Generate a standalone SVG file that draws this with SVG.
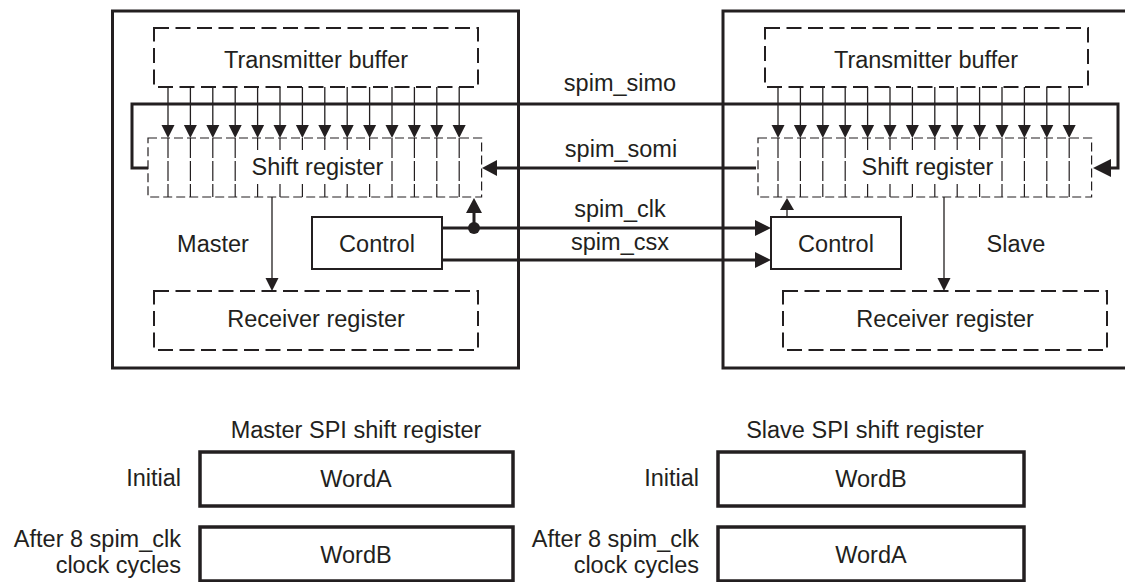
<svg xmlns="http://www.w3.org/2000/svg" xmlns:xlink="http://www.w3.org/1999/xlink" width="1125" height="582" viewBox="0 0 1125 582">
<style>
text{font-family:"Liberation Sans",Arial,sans-serif;font-size:23.5px;fill:#231f20}
.c{text-anchor:middle}
.r{text-anchor:end}
.outer{fill:none;stroke:#231f20;stroke-width:3}
.dbox{fill:none;stroke:#231f20;stroke-width:2;stroke-dasharray:15,6.5}
.sreg{fill:none;stroke:#231f20;stroke-width:1.2;stroke-dasharray:9,4}
.div{stroke:#231f20;stroke-width:1.2;stroke-dasharray:20,3}
.thin{stroke:#231f20;stroke-width:1.3;fill:none}
.thick{stroke:#231f20;stroke-width:3;fill:none}
.box{fill:#fff;stroke:#231f20;stroke-width:2}
.wbox{fill:none;stroke:#231f20;stroke-width:3.5}
.ah{fill:#231f20}
</style>
<defs>
<g id="colArrow">
<line class="thin" x1="0" y1="87" x2="0" y2="126"/>
<polygon class="ah" points="-6.5,125 6.5,125 0,138"/>
<line class="div" x1="0" y1="138" x2="0" y2="197"/>
</g>
</defs>
<rect width="1125" height="582" fill="#fff"/>

<g id="master">
<rect class="outer" x="112.5" y="11" width="406" height="357"/>
<text class="c" x="213" y="252">Master</text>
</g>
<g id="slave">
<rect class="outer" x="723" y="11" width="430" height="357"/>
<text class="c" x="1016" y="252">Slave</text>
</g>

<g id="master-tx">
<rect class="dbox" x="154" y="28" width="324" height="59"/>
<text class="c" x="316" y="68">Transmitter buffer</text>
</g>
<g id="slave-tx">
<rect class="dbox" x="765" y="28" width="323" height="59"/>
<text class="c" x="926" y="68">Transmitter buffer</text>
</g>

<g id="master-shift">
<rect class="sreg" x="148" y="138" width="333.6" height="59"/>
<use xlink:href="#colArrow" x="168"/><use xlink:href="#colArrow" x="190.4"/><use xlink:href="#colArrow" x="212.8"/><use xlink:href="#colArrow" x="235.2"/><use xlink:href="#colArrow" x="257.6"/><use xlink:href="#colArrow" x="280"/><use xlink:href="#colArrow" x="302.4"/><use xlink:href="#colArrow" x="324.8"/><use xlink:href="#colArrow" x="347.2"/><use xlink:href="#colArrow" x="369.6"/><use xlink:href="#colArrow" x="392"/><use xlink:href="#colArrow" x="414.4"/><use xlink:href="#colArrow" x="436.8"/><use xlink:href="#colArrow" x="459.2"/>
<rect x="249" y="150" width="137" height="31" fill="#fff"/>
<text class="c" x="317.5" y="175">Shift register</text>
</g>
<g id="slave-shift">
<rect class="sreg" x="758" y="138" width="333.6" height="59"/>
<use xlink:href="#colArrow" x="778"/><use xlink:href="#colArrow" x="800.4"/><use xlink:href="#colArrow" x="822.8"/><use xlink:href="#colArrow" x="845.2"/><use xlink:href="#colArrow" x="867.6"/><use xlink:href="#colArrow" x="890"/><use xlink:href="#colArrow" x="912.4"/><use xlink:href="#colArrow" x="934.8"/><use xlink:href="#colArrow" x="957.2"/><use xlink:href="#colArrow" x="979.6"/><use xlink:href="#colArrow" x="1002"/><use xlink:href="#colArrow" x="1024.4"/><use xlink:href="#colArrow" x="1046.8"/><use xlink:href="#colArrow" x="1069.2"/>
<rect x="859" y="150" width="137" height="31" fill="#fff"/>
<text class="c" x="927.5" y="175">Shift register</text>
</g>

<g id="master-control">
<rect class="box" x="312" y="217" width="130" height="52"/>
<text class="c" x="377" y="252">Control</text>
</g>
<g id="slave-control">
<rect class="box" x="771" y="217" width="130" height="52"/>
<text class="c" x="836" y="252">Control</text>
</g>

<g id="master-rx">
<rect class="dbox" x="154" y="291" width="324" height="59"/>
<text class="c" x="316" y="327">Receiver register</text>
</g>
<g id="slave-rx">
<rect class="dbox" x="783" y="291" width="324" height="59"/>
<text class="c" x="945" y="327">Receiver register</text>
</g>

<g id="connectors">
<!-- spim_simo -->
<polyline class="thick" points="148,168 132,168 132,104 1118,104 1118,168 1110,168"/>
<polygon class="ah" points="1093,168 1111,159 1111,177"/>
<!-- spim_somi -->
<line class="thick" x1="756" y1="168" x2="495" y2="168"/>
<polygon class="ah" points="482,168 497,160 497,176"/>
<!-- spim_clk -->
<line class="thick" x1="442" y1="228" x2="757" y2="228"/>
<polygon class="ah" points="771,228 755,220 755,236"/>
<circle class="ah" cx="474" cy="228" r="6"/>
<line class="thick" x1="474" y1="228" x2="474" y2="211"/>
<polygon class="ah" points="474,198 466,213 482,213"/>
<!-- spim_csx -->
<line class="thick" x1="442" y1="260" x2="757" y2="260"/>
<polygon class="ah" points="771,260 755,252 755,268"/>
<!-- slave control to shift register -->
<line class="thin" x1="787" y1="217" x2="787" y2="208"/>
<polygon class="ah" points="787,198 780,210 794,210"/>
<!-- shift register to receiver -->
<line class="thin" x1="272" y1="197" x2="272" y2="279"/>
<polygon class="ah" points="272,291 265.5,278 278.5,278"/>
<line class="thin" x1="944" y1="197" x2="944" y2="279"/>
<polygon class="ah" points="944,291 937.5,278 950.5,278"/>
</g>

<g id="signal-labels">
<text class="c" x="620" y="91">spim_simo</text>
<text class="c" x="621" y="157">spim_somi</text>
<text class="c" x="620" y="217">spim_clk</text>
<text class="c" x="620" y="250">spim_csx</text>
</g>

<g id="master-sequence">
<text class="c" x="356" y="438">Master SPI shift register</text>
<text class="r" x="181" y="486">Initial</text>
<text class="r" x="181" y="547">After 8 spim_clk</text>
<text class="r" x="181" y="573">clock cycles</text>
<g id="master-initial"><rect class="wbox" x="200" y="452" width="313" height="54"/><text class="c" x="356" y="487">WordA</text></g>
<g id="master-after"><rect class="wbox" x="200" y="527" width="313" height="54"/><text class="c" x="356" y="563">WordB</text></g>
</g>
<g id="slave-sequence">
<text class="c" x="865" y="438">Slave SPI shift register</text>
<text class="r" x="699" y="486">Initial</text>
<text class="r" x="699" y="547">After 8 spim_clk</text>
<text class="r" x="699" y="573">clock cycles</text>
<g id="slave-initial"><rect class="wbox" x="718" y="452" width="306" height="54"/><text class="c" x="871" y="487">WordB</text></g>
<g id="slave-after"><rect class="wbox" x="718" y="527" width="306" height="54"/><text class="c" x="871" y="563">WordA</text></g>
</g>
</svg>
